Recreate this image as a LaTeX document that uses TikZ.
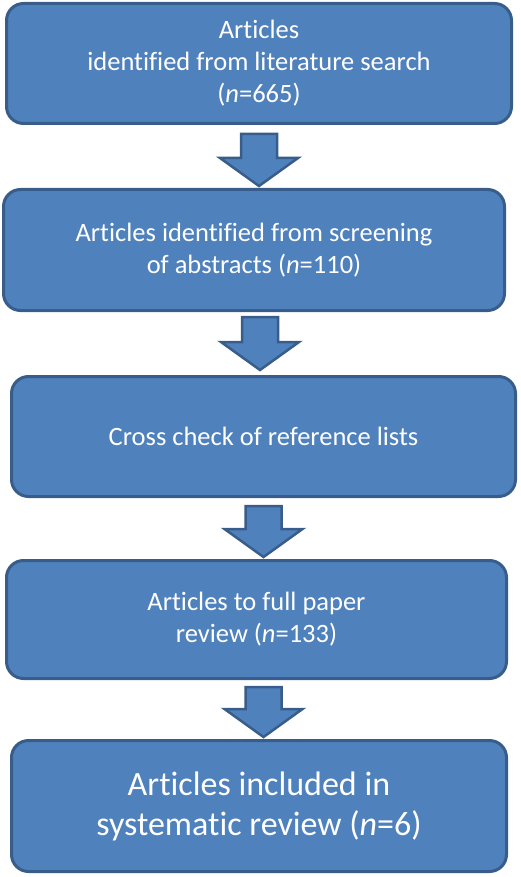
\documentclass[tikz,border=0pt]{standalone}
\usepackage{fontspec}
\setmainfont[Ligatures=CommonOff]{Carlito}
\usetikzlibrary{calc}
\definecolor{boxblue}{HTML}{4F81BD}
\definecolor{edgeblue}{HTML}{385D8A}
\tikzset{
  stepbox/.style={rectangle, rounded corners=17pt, fill=boxblue, draw=edgeblue,
    line width=3pt, text=white, align=center, inner sep=0pt,
    font=\fontsize{26.5}{32}\selectfont},
  blockarrow/.style={fill=boxblue, draw=edgeblue, line width=2.5pt, line join=miter}
}
% block arrow pointing down: #1 top of shaft, #2 tip
\newcommand{\downblock}[2]{%
  \draw[blockarrow] let \p1=(#1), \p2=(#2) in
    (\x1-18pt,\y1) -- (\x1+18pt,\y1) -- (\x1+18pt,\y2+28pt) -- (\x1+39pt,\y2+28pt)
    -- (\x1,\y2) -- (\x1-39pt,\y2+28pt) -- (\x1-18pt,\y2+28pt) -- cycle;}
\begin{document}
\begin{tikzpicture}[x=1pt,y=1pt] %Flujo de seleccion
            \useasboundingbox (0,0) rectangle (520,-877);

            \node[stepbox, minimum width=505pt, minimum height=120pt] (b1) at (259,-63.5)
                {Articles\\identified from literature search\\(\textit{n}=665)};
            \node[stepbox, minimum width=501pt, minimum height=121pt] (b2) at (254,-250)
                {Articles identified from screening\\of abstracts (\textit{n}=110)};
            \node[stepbox, minimum width=504pt, minimum height=120pt] (b3) at (263.5,-436.5)
                {Cross check of reference lists};
            \node[stepbox, minimum width=500pt, minimum height=118pt] (b4) at (256.5,-619.5)
                {Articles to full paper\\review (\textit{n}=133)};
            \node[stepbox, minimum width=495pt, minimum height=131pt,
                  font=\fontsize{34}{40}\selectfont] (b5) at (259,-806)
                {Articles included in\\systematic review (\textit{n}=6)};

            \coordinate (t1) at ([yshift=-9pt]b1.south);
            \coordinate (h1) at ([yshift=2pt]b2.north -| t1);
            \coordinate (t2) at ([xshift=6pt,yshift=-5pt]b2.south);
            \coordinate (h2) at ([yshift=5pt]b3.north -| t2);
            \coordinate (t3) at ([yshift=-8pt]b3.south);
            \coordinate (h3) at ([yshift=2pt]b4.north -| t3);
            \coordinate (t4) at ([xshift=7pt,yshift=-7pt]b4.south);
            \coordinate (h4) at ([yshift=2pt]b5.north -| t4);

            \downblock{t1}{h1}
            \downblock{t2}{h2}
            \downblock{t3}{h3}
            \downblock{t4}{h4}
        \end{tikzpicture}
\end{document}
